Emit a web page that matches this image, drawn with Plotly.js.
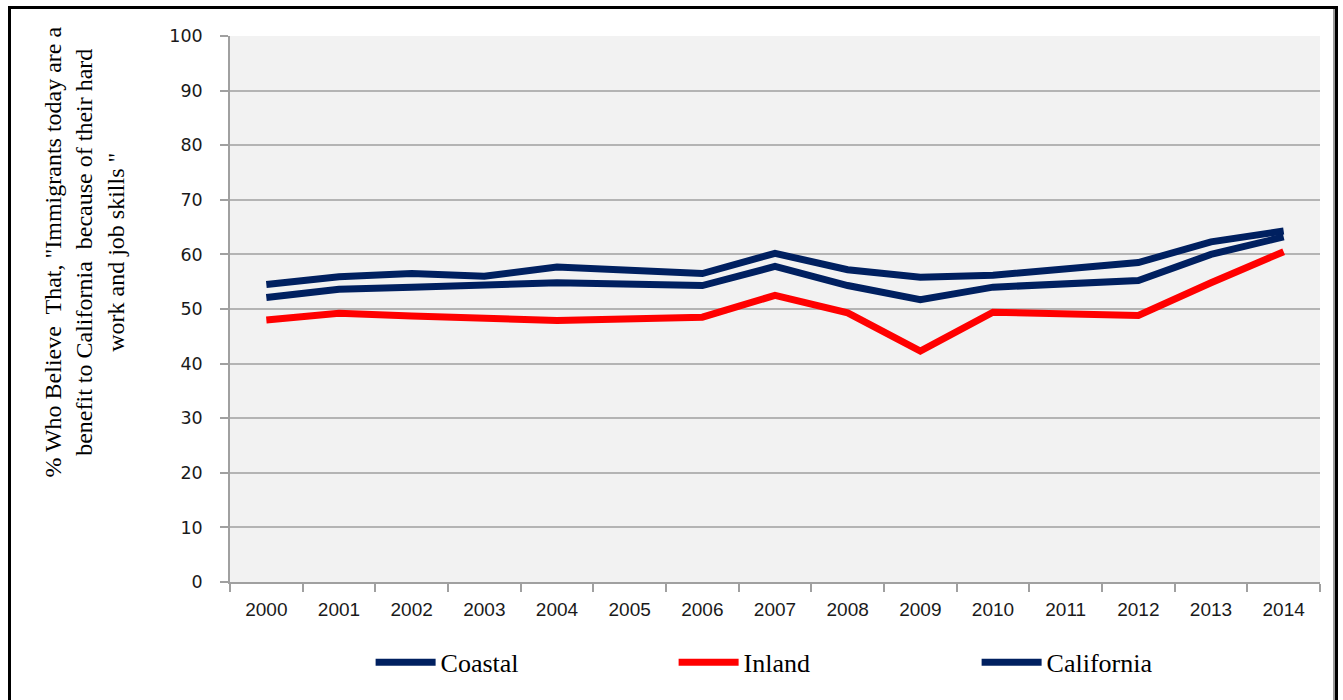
<!DOCTYPE html>
<html>
<head>
<meta charset="utf-8">
<script src="https://cdn.plot.ly/plotly-3.0.1.min.js"></script>
<style>
  html, body { margin: 0; padding: 0; background: #ffffff; }
  #chart { width: 1343px; height: 700px; }
  #frame { position: absolute; left: 8px; top: 6px; width: 1324px; height: 800px;
           border: 3px solid #000000; box-shadow: inset -2px 0 0 #9a9a9a; pointer-events: none; }
</style>
</head>
<body>
<div id="chart"></div>
<div id="frame"></div>
<script>
const years = ['2000','2001','2002','2003','2004','2005','2006','2007','2008','2009','2010','2011','2012','2013','2014'];
const coastal    = [54.5, 55.9, 56.5, 56.0, 57.7, null, 56.5, 60.2, 57.2, 55.8, 56.2, null, 58.5, 62.3, 64.3];
const inland     = [48.0, 49.2, 48.7, 48.3, 47.9, null, 48.5, 52.5, 49.3, 42.3, 49.4, null, 48.8, 54.8, 60.5];
const california = [52.1, 53.6, 54.0, 54.3, 54.8, null, 54.3, 57.8, 54.3, 51.7, 54.0, null, 55.2, 60.0, 63.2];
const yTitleLines = ['% Who Believe  That, "Immigrants today are a', 'benefit to California  because of their hard', 'work and job skills "'];

const navy = '#002060';
const red = '#ff0000';

function tr(name, y, color) {
  return { x: years, y: y, name: name, type: 'scatter', mode: 'lines', connectgaps: true,
           line: { color: color, width: 7 }, hoverinfo: 'x+y+name' };
}

const data = [tr('Coastal', coastal, navy), tr('Inland', inland, red), tr('California', california, navy)];

const layout = {
  width: 1343, height: 700,
  margin: { l: 230, r: 23, t: 36, b: 118, autoexpand: false },
  paper_bgcolor: '#ffffff',
  plot_bgcolor: '#f2f2f2',
  showlegend: true,
  legend: {
    orientation: 'h', x: 0.129, xanchor: 'left', y: -0.147, yanchor: 'middle',
    font: { family: 'Liberation Serif, Times New Roman, serif', size: 26, color: '#000000' },
    entrywidth: 228, entrywidthmode: 'pixels', itemwidth: 60, bgcolor: 'rgba(0,0,0,0)'
  },
  xaxis: {
    type: 'category', categoryorder: 'array', categoryarray: years,
    range: [-0.5, 14.5], fixedrange: true, automargin: false,
    showgrid: false, showline: true, linecolor: '#a0a0a0', linewidth: 1.5,
    ticks: 'outside', tickson: 'boundaries', ticklen: 8, tickcolor: '#a0a0a0', tickwidth: 1.5,
    ticklabelstandoff: 9,
    tickfont: { family: 'Liberation Sans, Arial, sans-serif', size: 19, color: '#1a1a1a' }
  },
  yaxis: {
    range: [0, 100], dtick: 10, tick0: 0, fixedrange: true, automargin: false,
    showgrid: true, gridcolor: '#b4b4b4', gridwidth: 1.5,
    showline: true, linecolor: '#a0a0a0', linewidth: 1.5, zeroline: false,
    ticks: 'outside', ticklen: 8, tickcolor: '#a0a0a0', tickwidth: 1.5,
    ticklabelstandoff: 14,
    tickfont: { family: 'DejaVu Sans, Verdana, sans-serif', size: 17.5, color: '#1a1a1a' }
  },
  annotations: [{
    text: yTitleLines.join('<br>'),
    xref: 'paper', yref: 'paper', x: -0.134, y: 0.605, xanchor: 'center', yanchor: 'middle',
    textangle: -90, showarrow: false, align: 'center',
    font: { family: 'Liberation Serif, Times New Roman, serif', size: 24, color: '#000000' }
  }]
};

Plotly.newPlot('chart', data, layout, { displayModeBar: false, staticPlot: false });
</script>
</body>
</html>
